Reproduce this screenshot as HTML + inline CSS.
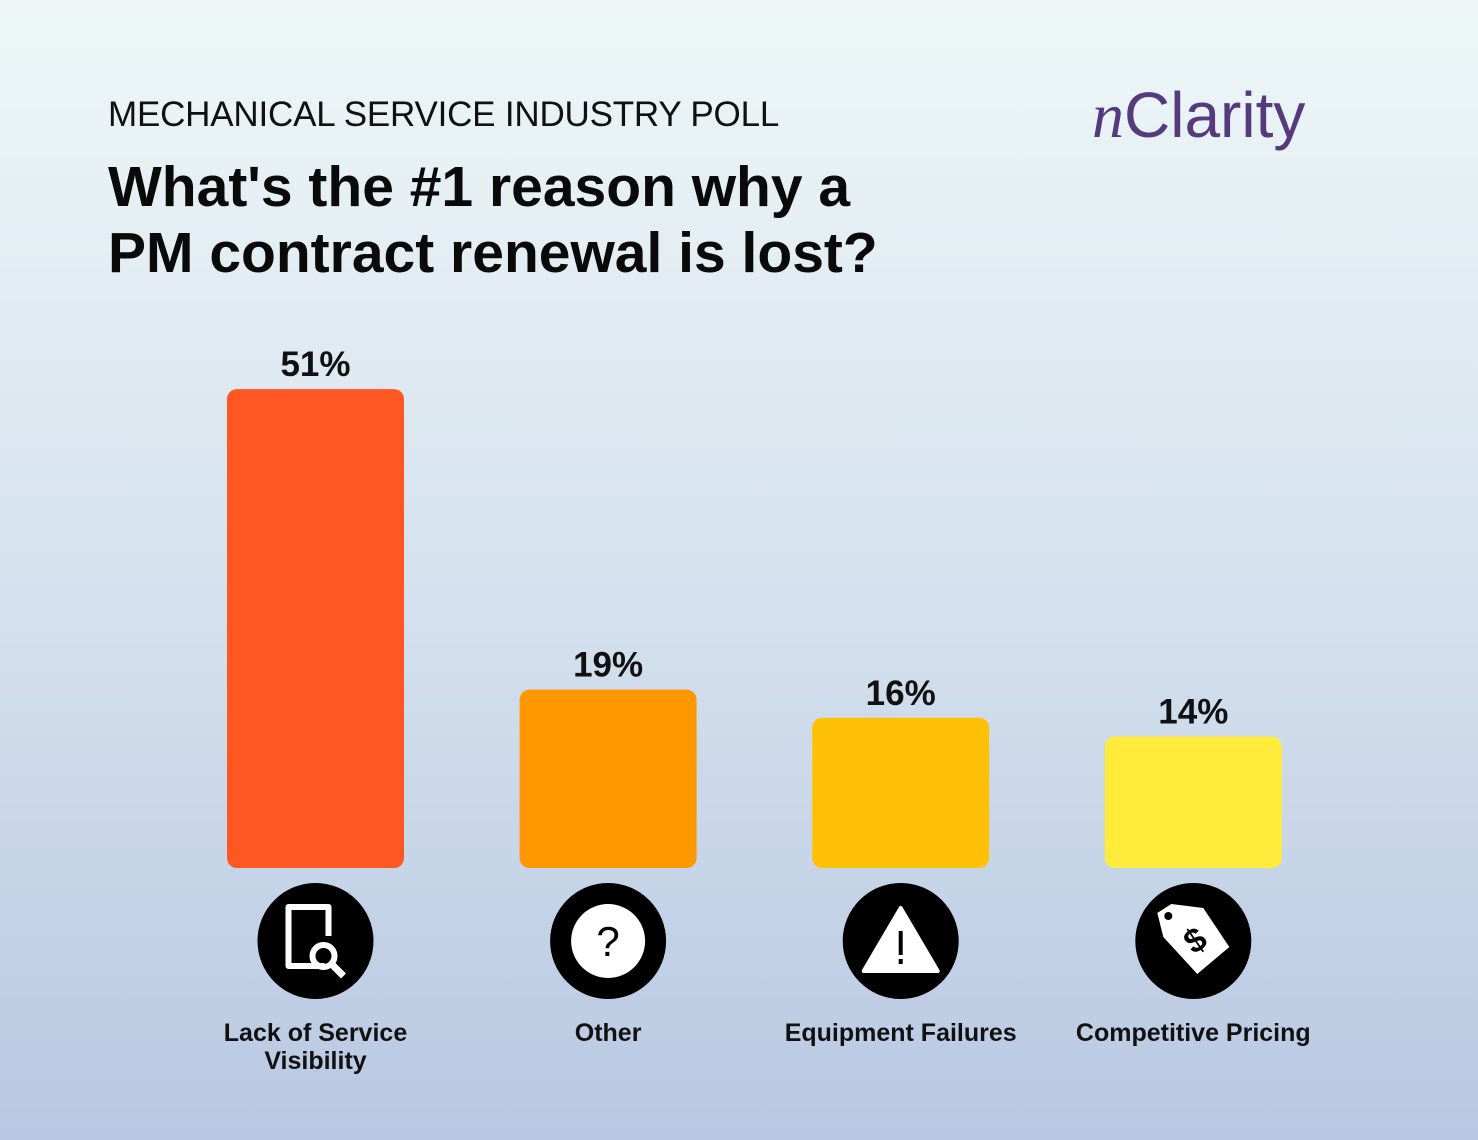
<!DOCTYPE html>
<html><head><meta charset="utf-8"><style>
html,body{margin:0;padding:0}
body{width:1478px;height:1140px;overflow:hidden;background:linear-gradient(180deg,#eef7f7 0%,#d6e2ee 50%,#b8c8e2 100%);font-family:"Liberation Sans",sans-serif;position:relative}
.t{position:absolute;margin:0}
</style></head><body>
<div class="t" style="left:108px;top:95px;font-size:35px;color:#111;letter-spacing:-0.2px">MECHANICAL SERVICE INDUSTRY POLL</div>
<div class="t" style="left:108px;top:154px;font-size:57px;font-weight:bold;line-height:66px;color:#0a0a0a">What's the #1 reason why a<br>PM contract renewal is lost?</div>
<div class="t" style="left:1092px;top:78px;font-size:64px;color:#553a7e"><span style="font-family:'Liberation Serif',serif;font-style:italic">n</span>Clarity</div>
<svg id="chart" width="1478" height="1140" style="position:absolute;left:0;top:0"></svg>
<script>
const categories=["Lack of Service|Visibility","Other","Equipment Failures","Competitive Pricing"];
const values=[51,19,16,14];
const valueLabels=["51%","19%","16%","14%"];
const colors=["#ff5722","#ff9800","#ffc107","#ffeb3b"];
const icons=["doc","question","warning","tag"];
const svg=document.getElementById('chart');
const NS='http://www.w3.org/2000/svg';
const baseY=868,pxPer=9.39,x0=227,step=292.6,bw=177;
function y(v){return baseY-v*pxPer;}
function mk(t,a,p){const e=document.createElementNS(NS,t);for(const k in a)e.setAttribute(k,a[k]);(p||svg).appendChild(e);return e;}
values.forEach((v,i)=>{
  const x=x0+i*step,cx=x+bw/2;
  const b=mk('rect',{x:x,y:y(v),width:bw,height:v*pxPer,rx:10,fill:colors[i]});
  
  
  const t=mk('text',{x:cx,y:y(v)-13,'text-anchor':'middle','font-size':35,'font-weight':'bold',fill:'#111','font-family':'Liberation Sans, sans-serif'});
  t.textContent=valueLabels[i];
  
  
  const g=mk('g',{});
  
  
  mk('circle',{cx:cx,cy:941,r:58,fill:'#000'},g);
  const cy=941;
  if(icons[i]=='doc'){
    mk('path',{d:`M${cx+9} ${cy+25} L${cx-27} ${cy+25} L${cx-27} ${cy-34} L${cx+13} ${cy-34} L${cx+13} ${cy-5}`,stroke:'#fff','stroke-width':6,fill:'none','stroke-linejoin':'round'},g);
    mk('circle',{cx:cx+8,cy:cy+15,r:11,stroke:'#fff','stroke-width':6,fill:'none'},g);
    mk('line',{x1:cx+16,y1:cy+23,x2:cx+28,y2:cy+35,stroke:'#fff','stroke-width':7},g);
  }else if(icons[i]=='question'){
    mk('circle',{cx:cx,cy:cy,r:37,fill:'#fff'},g);
    const q=mk('text',{x:cx,y:cy+15,'text-anchor':'middle','font-size':42,fill:'#000','font-family':'Liberation Sans, sans-serif'},g);q.textContent='?';
  }else if(icons[i]=='warning'){
    mk('path',{d:`M${cx} ${cy-33} L${cx+37} ${cy+30} L${cx-37} ${cy+30} Z`,fill:'#fff','stroke':'#fff','stroke-width':4,'stroke-linejoin':'round'},g);
    mk('rect',{x:cx-2,y:cy-10,width:4,height:24,fill:'#000'},g);
    mk('rect',{x:cx-2,y:cy+18,width:4,height:5,fill:'#000'},g);
  }else{
    mk('path',{d:`M${cx-36} ${cy-28} L${cx-22} ${cy-37} L${cx+10} ${cy-33} L${cx+36} ${cy+6} L${cx+4} ${cy+33} L${cx-30} ${cy-4} Z`,fill:'#fff','stroke-linejoin':'round'},g);
    mk('circle',{cx:cx-25,cy:cy-25,r:4,fill:'#000'},g);
    const d=mk('text',{x:cx+2,y:cy+12,'text-anchor':'middle','font-size':34,'font-weight':'bold',fill:'#000','font-family':'Liberation Sans, sans-serif',transform:`rotate(-35 ${cx} ${cy})`},g);d.textContent='$';
  }
  const lines=categories[i].split('|');
  lines.forEach((l,j)=>{
    const c=mk('text',{x:cx,y:1041+j*28,'text-anchor':'middle','font-size':25,'font-weight':'bold',fill:'#111','font-family':'Liberation Sans, sans-serif'});
    c.textContent=l;
    
    
  });
});
</script>
</body></html>
